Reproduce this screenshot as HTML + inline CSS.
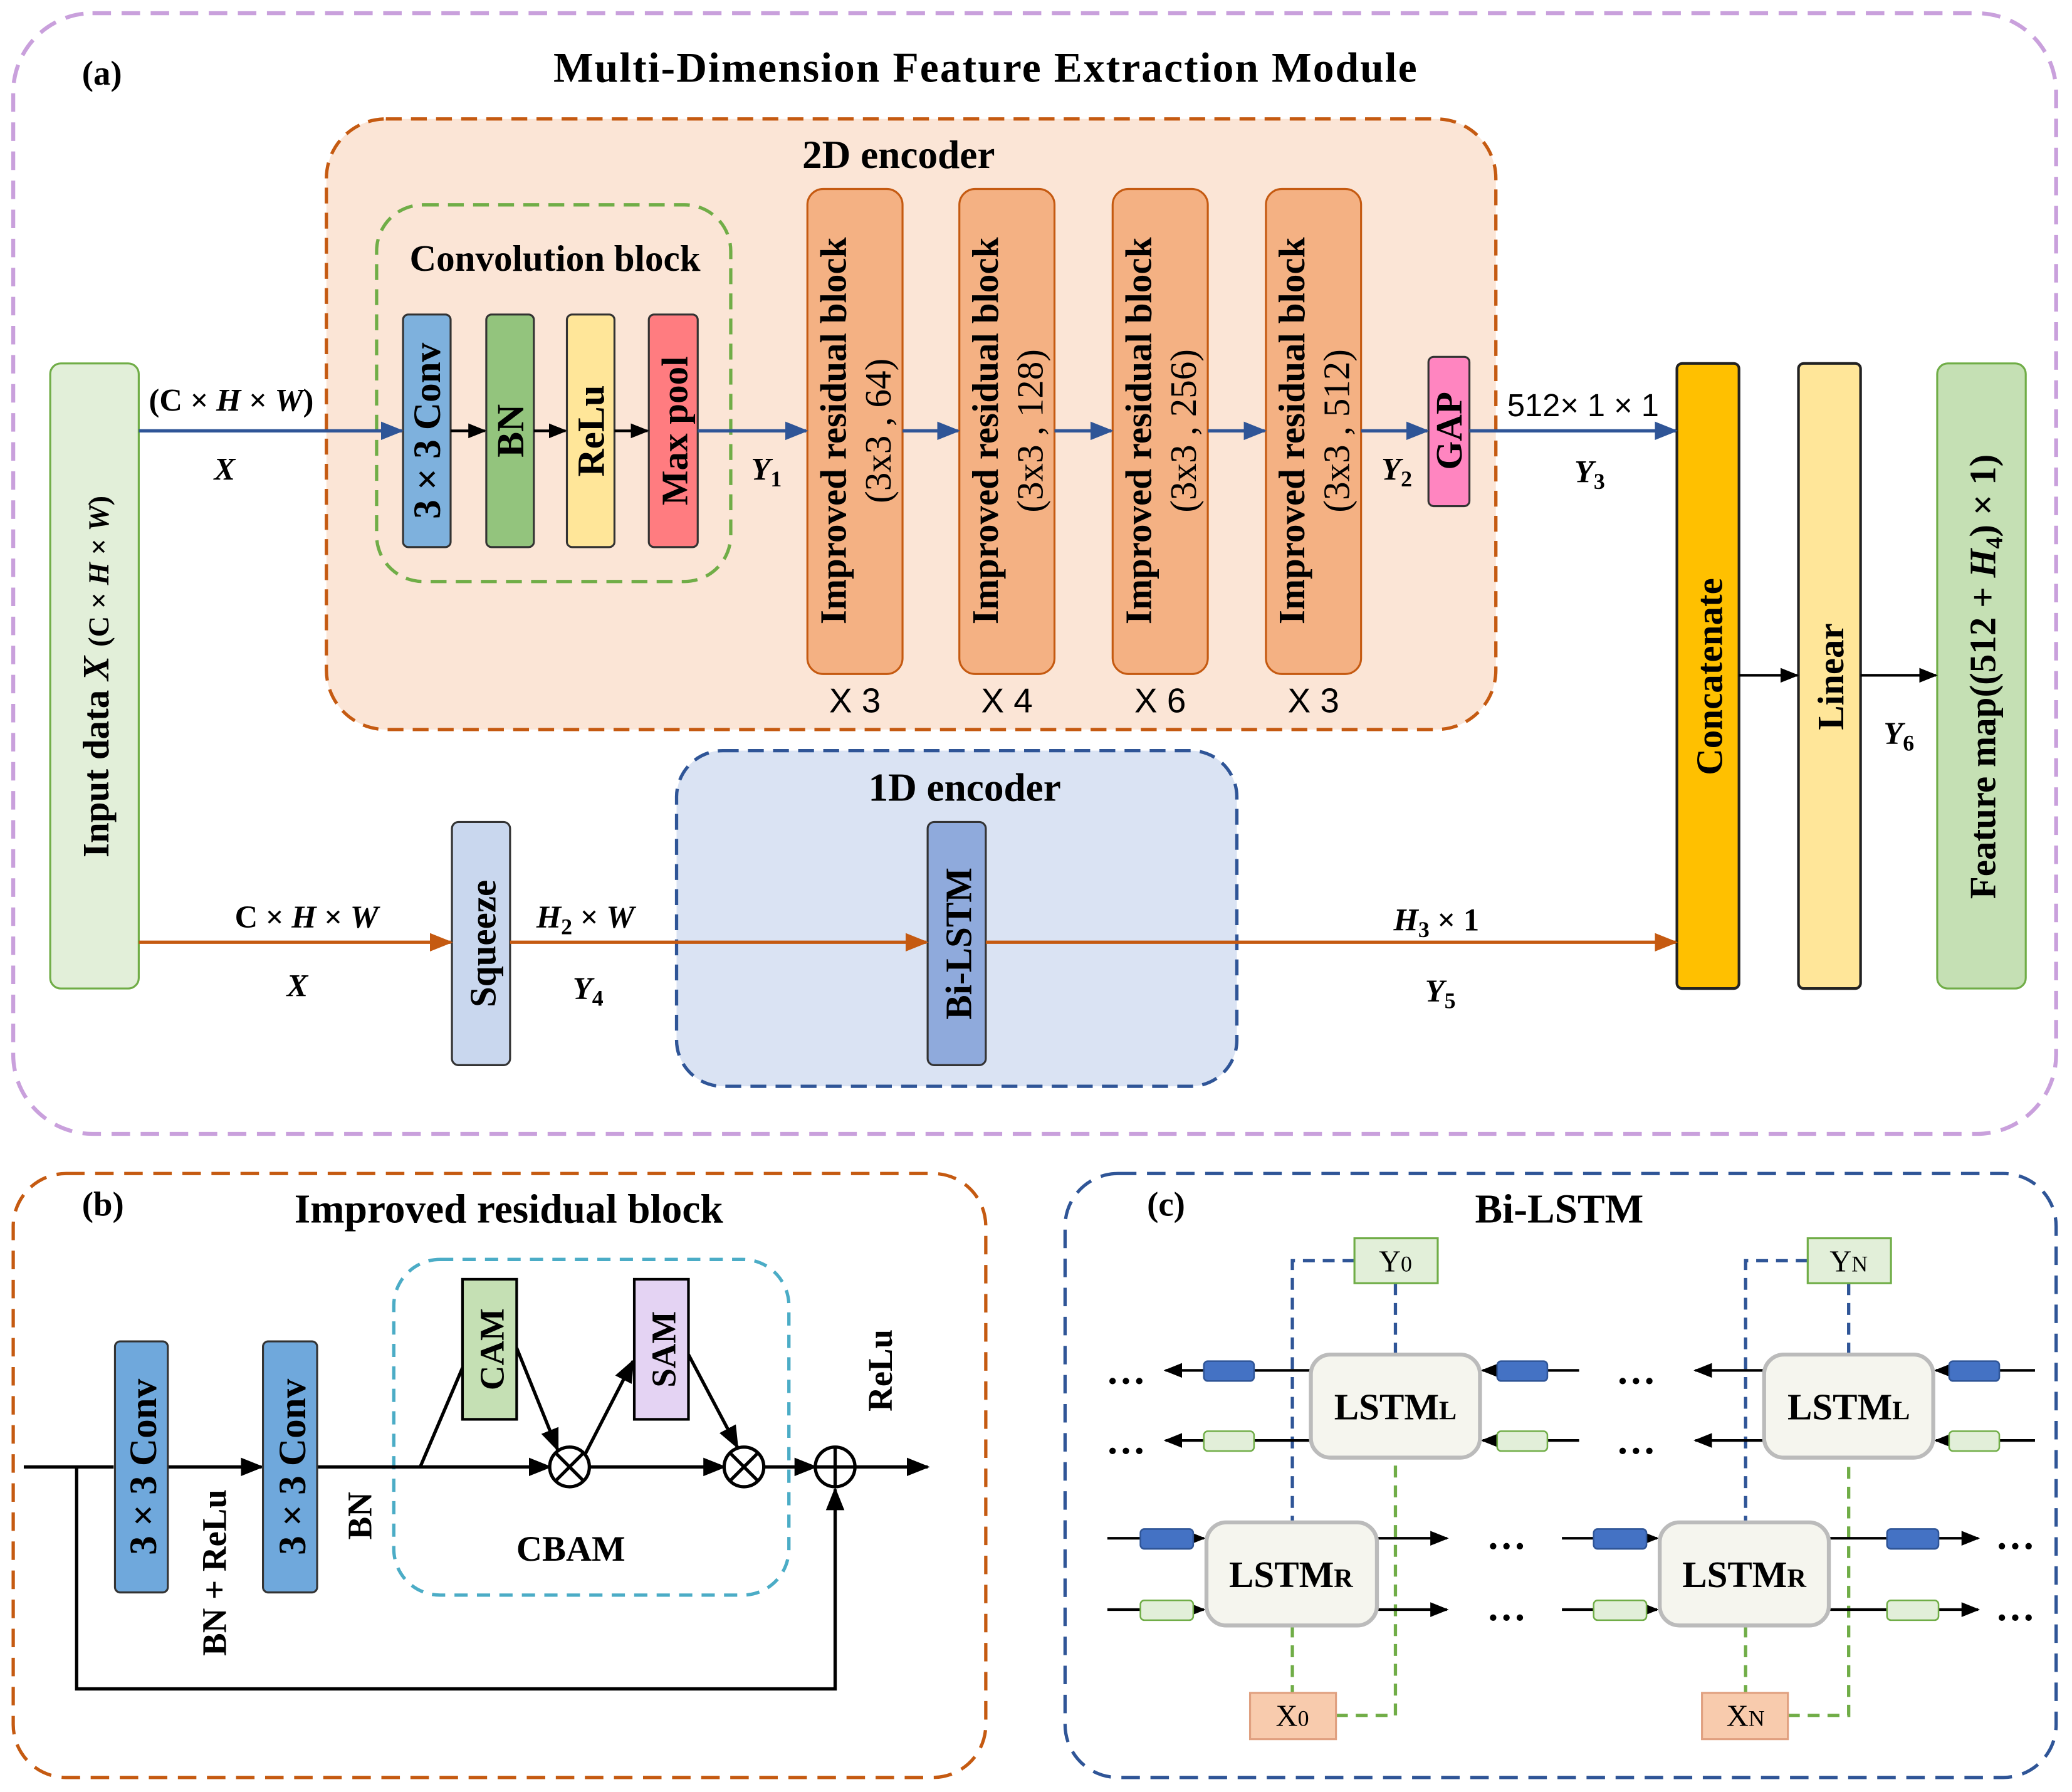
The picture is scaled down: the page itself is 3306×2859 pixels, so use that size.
<!DOCTYPE html>
<html><head><meta charset="utf-8"><style>
html,body{margin:0;padding:0;background:#fff;}
svg{display:block;}
text{font-family:"Liberation Serif",serif;font-weight:bold;fill:#000;}
text.s{font-family:"Liberation Sans",sans-serif;font-weight:normal;}
text.n{font-weight:normal;}
</style></head><body>
<svg width="3306" height="2859" viewBox="0 0 1568 1356" xmlns="http://www.w3.org/2000/svg">
<defs>
<marker id="ab" viewBox="0 0 10 10" refX="9" refY="5" markerWidth="7" markerHeight="7" orient="auto"><path d="M0,1 L10,5 L0,9 z" fill="#2f5597"/></marker>
<marker id="ao" viewBox="0 0 10 10" refX="9" refY="5" markerWidth="7" markerHeight="7" orient="auto"><path d="M0,1 L10,5 L0,9 z" fill="#c55a11"/></marker>
<marker id="ak" viewBox="0 0 10 10" refX="9" refY="5" markerWidth="7" markerHeight="7" orient="auto"><path d="M0,1 L10,5 L0,9 z" fill="#000"/></marker>
</defs>
<!-- (a) -->
<rect x="10" y="10" width="1546" height="848" rx="60" fill="none" stroke="#c9a0dc" stroke-width="3" stroke-dasharray="14,8"/>
<text x="62" y="64" font-size="26">(a)</text>
<text x="746" y="62" font-size="32" text-anchor="middle" letter-spacing="1">Multi-Dimension Feature Extraction Module</text>
<rect x="247" y="90" width="885" height="462" rx="45" fill="#fbe5d6" stroke="#c55a11" stroke-width="2.5" stroke-dasharray="12,7"/>
<text x="680" y="127" font-size="30" text-anchor="middle">2D encoder</text>
<rect x="285" y="155" width="268" height="285" rx="35" fill="none" stroke="#70ad47" stroke-width="2.5" stroke-dasharray="12,7"/>
<text x="420" y="205" font-size="28" text-anchor="middle">Convolution block</text>
<g stroke="#333" stroke-width="1.5">
<rect x="305" y="238" width="36" height="176" rx="4" fill="#7eb1dd"/>
<rect x="368" y="238" width="36" height="176" rx="4" fill="#93c47d"/>
<rect x="429" y="238" width="36" height="176" rx="4" fill="#ffe699"/>
<rect x="491" y="238" width="37" height="176" rx="4" fill="#ff7c80"/>
</g>
<text transform="translate(333,326) rotate(-90)" font-size="29" text-anchor="middle">3 × 3 Conv</text>
<text transform="translate(396,326) rotate(-90)" font-size="29" text-anchor="middle">BN</text>
<text transform="translate(457,326) rotate(-90)" font-size="29" text-anchor="middle">ReLu</text>
<text transform="translate(520,326) rotate(-90)" font-size="28" text-anchor="middle">Max pool</text>
<g stroke="#c55a11" stroke-width="1.5" fill="#f4b183">
<rect x="611" y="143" width="72" height="367" rx="12"/>
<rect x="726" y="143" width="72" height="367" rx="12"/>
<rect x="842" y="143" width="72" height="367" rx="12"/>
<rect x="958" y="143" width="72" height="367" rx="12"/>
</g>
<g font-size="28">
<text transform="translate(640,326) rotate(-90)" text-anchor="middle">Improved residual block</text>
<text transform="translate(674,326) rotate(-90)" text-anchor="middle" class="n">(3x3 , 64)</text>
<text transform="translate(755,326) rotate(-90)" text-anchor="middle">Improved residual block</text>
<text transform="translate(789,326) rotate(-90)" text-anchor="middle" class="n">(3x3 , 128)</text>
<text transform="translate(871,326) rotate(-90)" text-anchor="middle">Improved residual block</text>
<text transform="translate(905,326) rotate(-90)" text-anchor="middle" class="n">(3x3 , 256)</text>
<text transform="translate(987,326) rotate(-90)" text-anchor="middle">Improved residual block</text>
<text transform="translate(1021,326) rotate(-90)" text-anchor="middle" class="n">(3x3 , 512)</text>
</g>
<g font-size="26">
<text class="s" x="647" y="539" text-anchor="middle">X 3</text>
<text class="s" x="762" y="539" text-anchor="middle">X 4</text>
<text class="s" x="878" y="539" text-anchor="middle">X 6</text>
<text class="s" x="994" y="539" text-anchor="middle">X 3</text>
</g>
<rect x="1081" y="270" width="31" height="113" rx="4" fill="#ff85c0" stroke="#333" stroke-width="1.5"/>
<text transform="translate(1106,326) rotate(-90)" font-size="28" text-anchor="middle">GAP</text>
<rect x="38" y="275" width="67" height="473" rx="8" fill="#e2efd9" stroke="#70ad47" stroke-width="1.5"/>
<text transform="translate(82,512) rotate(-90)" font-size="28" text-anchor="middle">Input data <tspan font-style="italic">X</tspan> <tspan font-size="22">(C × <tspan font-style="italic">H</tspan> × <tspan font-style="italic">W</tspan>)</tspan></text>
<rect x="1269" y="275" width="47" height="473" rx="4" fill="#ffc000" stroke="#222" stroke-width="2"/>
<rect x="1361" y="275" width="47" height="473" rx="4" fill="#ffe699" stroke="#222" stroke-width="2"/>
<rect x="1466" y="275" width="67" height="473" rx="8" fill="#c5e0b4" stroke="#70ad47" stroke-width="1.5"/>
<text transform="translate(1303,512) rotate(-90)" font-size="28" text-anchor="middle">Concatenate</text>
<text transform="translate(1395,512) rotate(-90)" font-size="28" text-anchor="middle">Linear</text>
<text transform="translate(1510,512) rotate(-90)" font-size="28" text-anchor="middle">Feature map((512 + <tspan font-style="italic">H</tspan><tspan font-size="18" dy="5">4</tspan><tspan dy="-5">) × 1)</tspan></text>
<g stroke="#2f5597" stroke-width="2.5" marker-end="url(#ab)">
<line x1="105" y1="326" x2="304" y2="326"/>
<line x1="528" y1="326" x2="610" y2="326"/>
<line x1="683" y1="326" x2="725" y2="326"/>
<line x1="798" y1="326" x2="841" y2="326"/>
<line x1="914" y1="326" x2="957" y2="326"/>
<line x1="1030" y1="326" x2="1080" y2="326"/>
<line x1="1112" y1="326" x2="1268" y2="326"/>
</g>
<g stroke="#000" stroke-width="2" marker-end="url(#ak)">
<line x1="341" y1="326" x2="367" y2="326"/>
<line x1="404" y1="326" x2="428" y2="326"/>
<line x1="465" y1="326" x2="490" y2="326"/>
<line x1="1316" y1="511" x2="1360" y2="511"/>
<line x1="1408" y1="511" x2="1465" y2="511"/>
</g>
<g font-size="24">
<text x="175" y="311" text-anchor="middle">(C × <tspan font-style="italic">H</tspan> × <tspan font-style="italic">W</tspan>)</text>
<text x="170" y="363" text-anchor="middle" font-style="italic">X</text>
<text x="580" y="363" text-anchor="middle" font-style="italic">Y<tspan font-size="17" dy="5" font-style="normal">1</tspan></text>
<text x="1057" y="363" text-anchor="middle" font-style="italic">Y<tspan font-size="17" dy="5" font-style="normal">2</tspan></text>
<text class="s" x="1198" y="315" text-anchor="middle">512× 1 × 1</text>
<text x="1203" y="365" text-anchor="middle" font-style="italic">Y<tspan font-size="17" dy="5" font-style="normal">3</tspan></text>
<text x="1437" y="563" text-anchor="middle" font-style="italic">Y<tspan font-size="17" dy="5" font-style="normal">6</tspan></text>
</g>
<rect x="512" y="568" width="424" height="254" rx="35" fill="#dae3f3" stroke="#2f5597" stroke-width="2.5" stroke-dasharray="12,7"/>
<text x="730" y="606" font-size="30" text-anchor="middle">1D encoder</text>
<rect x="342" y="622" width="44" height="184" rx="5" fill="#c9d7ee" stroke="#333" stroke-width="1.5"/>
<rect x="702" y="622" width="44" height="184" rx="5" fill="#8faadc" stroke="#333" stroke-width="1.5"/>
<text transform="translate(375,714) rotate(-90)" font-size="28" text-anchor="middle">Squeeze</text>
<text transform="translate(735,714) rotate(-90)" font-size="28" text-anchor="middle">Bi-LSTM</text>
<g stroke="#c55a11" stroke-width="2.5" marker-end="url(#ao)">
<line x1="105" y1="713" x2="341" y2="713"/>
<line x1="386" y1="713" x2="701" y2="713"/>
<line x1="746" y1="713" x2="1268" y2="713"/>
</g>
<g font-size="24">
<text x="232" y="702" text-anchor="middle">C × <tspan font-style="italic">H</tspan> × <tspan font-style="italic">W</tspan></text>
<text x="225" y="754" text-anchor="middle" font-style="italic">X</text>
<text x="443" y="702" text-anchor="middle"><tspan font-style="italic">H</tspan><tspan font-size="17" dy="5">2</tspan><tspan dy="-5"> × </tspan><tspan font-style="italic">W</tspan></text>
<text x="445" y="756" text-anchor="middle" font-style="italic">Y<tspan font-size="17" dy="5" font-style="normal">4</tspan></text>
<text x="1087" y="704" text-anchor="middle"><tspan font-style="italic">H</tspan><tspan font-size="17" dy="5">3</tspan><tspan dy="-5"> × 1</tspan></text>
<text x="1090" y="758" text-anchor="middle" font-style="italic">Y<tspan font-size="17" dy="5" font-style="normal">5</tspan></text>
</g>
<!-- (b) -->
<rect x="10" y="888" width="736" height="457" rx="40" fill="none" stroke="#c55a11" stroke-width="2.5" stroke-dasharray="14,8"/>
<text x="62" y="920" font-size="26">(b)</text>
<text x="385" y="925" font-size="31" text-anchor="middle">Improved residual block</text>
<rect x="298" y="953" width="299" height="254" rx="35" fill="none" stroke="#4bacc6" stroke-width="2.5" stroke-dasharray="10,7"/>
<text x="432" y="1181" font-size="27" text-anchor="middle">CBAM</text>
<g stroke="#000" stroke-width="2.5" fill="none">
<line x1="18" y1="1110" x2="86" y2="1110"/>
<line x1="127" y1="1110" x2="198" y2="1110" marker-end="url(#ak)"/>
<line x1="240" y1="1110" x2="416" y2="1110" marker-end="url(#ak)"/>
<line x1="446" y1="1110" x2="548" y2="1110" marker-end="url(#ak)"/>
<line x1="578" y1="1110" x2="617" y2="1110" marker-end="url(#ak)"/>
<line x1="647" y1="1110" x2="702" y2="1110" marker-end="url(#ak)"/>
<polyline points="58,1110 58,1278 632,1278 632,1127" marker-end="url(#ak)"/>
<polyline points="318,1110 350,1035"/>
<line x1="391" y1="1020" x2="422" y2="1097" marker-end="url(#ak)"/>
<line x1="443" y1="1100" x2="479" y2="1030" marker-end="url(#ak)"/>
<line x1="521" y1="1025" x2="558" y2="1095" marker-end="url(#ak)"/>
</g>
<rect x="87" y="1015" width="40" height="190" rx="4" fill="#6fa8dc" stroke="#333" stroke-width="1.5"/>
<rect x="199" y="1015" width="41" height="190" rx="4" fill="#6fa8dc" stroke="#333" stroke-width="1.5"/>
<text transform="translate(118,1110) rotate(-90)" font-size="29" text-anchor="middle">3 × 3 Conv</text>
<text transform="translate(231,1110) rotate(-90)" font-size="29" text-anchor="middle">3 × 3 Conv</text>
<text transform="translate(171,1190) rotate(-90)" font-size="26" text-anchor="middle">BN + ReLu</text>
<text transform="translate(281,1147) rotate(-90)" font-size="26" text-anchor="middle">BN</text>
<text transform="translate(675,1037) rotate(-90)" font-size="26" text-anchor="middle">ReLu</text>
<rect x="350" y="968" width="41" height="106" fill="#c5e0b4" stroke="#000" stroke-width="2"/>
<rect x="480" y="968" width="41" height="106" fill="#e4d3f3" stroke="#000" stroke-width="2"/>
<text transform="translate(381,1021) rotate(-90)" font-size="26" text-anchor="middle">CAM</text>
<text transform="translate(511,1021) rotate(-90)" font-size="26" text-anchor="middle">SAM</text>
<g stroke="#000" stroke-width="2.5" fill="#fff">
<circle cx="431" cy="1110" r="15"/><circle cx="563" cy="1110" r="15"/><circle cx="632" cy="1110" r="15"/>
<path d="M420,1099 L442,1121 M442,1099 L420,1121 M552,1099 L574,1121 M574,1099 L552,1121 M617,1110 L647,1110 M632,1095 L632,1125" fill="none"/>
</g>
<!-- (c) -->
<rect x="806" y="888" width="750" height="457" rx="40" fill="none" stroke="#2f5597" stroke-width="2.5" stroke-dasharray="14,8"/>
<text x="868" y="920" font-size="26">(c)</text>
<text x="1180" y="925" font-size="31" text-anchor="middle">Bi-LSTM</text>
<!-- dashed connectors -->
<g stroke="#2f5597" stroke-width="2.5" stroke-dasharray="9,6" fill="none">
<line x1="1056" y1="971" x2="1056" y2="1025"/>
<polyline points="1025,954 978,954 978,1152"/>
<line x1="1399" y1="971" x2="1399" y2="1025"/>
<polyline points="1368,954 1321,954 1321,1152"/>
</g>
<g stroke="#70ad47" stroke-width="2.5" stroke-dasharray="9,6" fill="none">
<polyline points="1011,1298 1056,1298 1056,1103"/>
<line x1="978" y1="1230" x2="978" y2="1281"/>
<polyline points="1353,1298 1399,1298 1399,1103"/>
<line x1="1321" y1="1230" x2="1321" y2="1281"/>
</g>
<g stroke="#000" stroke-width="2" marker-end="url(#ak)">
<line x1="992" y1="1037" x2="882" y2="1037"/>
<line x1="992" y1="1090" x2="882" y2="1090"/>
<line x1="1195" y1="1037" x2="1122" y2="1037"/>
<line x1="1195" y1="1090" x2="1122" y2="1090"/>
<line x1="1335" y1="1037" x2="1283" y2="1037"/>
<line x1="1335" y1="1090" x2="1283" y2="1090"/>
<line x1="1540" y1="1037" x2="1465" y2="1037"/>
<line x1="1540" y1="1090" x2="1465" y2="1090"/>
<line x1="838" y1="1164" x2="911" y2="1164"/>
<line x1="838" y1="1218" x2="911" y2="1218"/>
<line x1="1042" y1="1164" x2="1095" y2="1164"/>
<line x1="1042" y1="1218" x2="1095" y2="1218"/>
<line x1="1182" y1="1164" x2="1254" y2="1164"/>
<line x1="1182" y1="1218" x2="1254" y2="1218"/>
<line x1="1384" y1="1164" x2="1497" y2="1164"/>
<line x1="1384" y1="1218" x2="1497" y2="1218"/>
</g>
<g stroke-width="1.2">
<rect x="911" y="1030" width="38" height="15" rx="3" fill="#4472c4" stroke="#2f5597"/>
<rect x="911" y="1083" width="38" height="15" rx="3" fill="#e2efd9" stroke="#70ad47"/>
<rect x="1133" y="1030" width="38" height="15" rx="3" fill="#4472c4" stroke="#2f5597"/>
<rect x="1133" y="1083" width="38" height="15" rx="3" fill="#e2efd9" stroke="#70ad47"/>
<rect x="1475" y="1030" width="38" height="15" rx="3" fill="#4472c4" stroke="#2f5597"/>
<rect x="1475" y="1083" width="38" height="15" rx="3" fill="#e2efd9" stroke="#70ad47"/>
<rect x="863" y="1157" width="40" height="15" rx="3" fill="#4472c4" stroke="#2f5597"/>
<rect x="863" y="1211" width="40" height="15" rx="3" fill="#e2efd9" stroke="#70ad47"/>
<rect x="1206" y="1157" width="40" height="15" rx="3" fill="#4472c4" stroke="#2f5597"/>
<rect x="1206" y="1211" width="40" height="15" rx="3" fill="#e2efd9" stroke="#70ad47"/>
<rect x="1428" y="1157" width="39" height="15" rx="3" fill="#4472c4" stroke="#2f5597"/>
<rect x="1428" y="1211" width="39" height="15" rx="3" fill="#e2efd9" stroke="#70ad47"/>
</g>
<g fill="#f5f5ee" stroke="#bbb" stroke-width="3">
<rect x="992" y="1025" width="128" height="78" rx="15"/>
<rect x="913" y="1152" width="129" height="78" rx="15"/>
<rect x="1335" y="1025" width="128" height="78" rx="15"/>
<rect x="1256" y="1152" width="128" height="78" rx="15"/>
</g>
<g stroke-width="1.5">
<rect x="1025" y="937" width="63" height="34" fill="#e2efd9" stroke="#70ad47"/>
<rect x="1368" y="937" width="63" height="34" fill="#e2efd9" stroke="#70ad47"/>
<rect x="946" y="1281" width="65" height="35" fill="#f8cbad" stroke="#e0a080"/>
<rect x="1288" y="1281" width="65" height="35" fill="#f8cbad" stroke="#e0a080"/>
</g>
<g font-size="28">
<text x="1056" y="1074" text-anchor="middle">LSTM<tspan font-size="20">L</tspan></text>
<text x="1399" y="1074" text-anchor="middle">LSTM<tspan font-size="20">L</tspan></text>
<text x="977" y="1201" text-anchor="middle">LSTM<tspan font-size="20">R</tspan></text>
<text x="1320" y="1201" text-anchor="middle">LSTM<tspan font-size="20">R</tspan></text>
<text class="n" x="1056" y="962" font-size="23" text-anchor="middle">Y<tspan font-size="17">0</tspan></text>
<text class="n" x="1399" y="962" font-size="23" text-anchor="middle">Y<tspan font-size="17">N</tspan></text>
<text class="n" x="978" y="1306" font-size="23" text-anchor="middle">X<tspan font-size="17">0</tspan></text>
<text class="n" x="1321" y="1306" font-size="23" text-anchor="middle">X<tspan font-size="17">N</tspan></text>
</g>
<g font-size="30">
<text x="852" y="1047" text-anchor="middle">…</text><text x="852" y="1100" text-anchor="middle">…</text>
<text x="1238" y="1047" text-anchor="middle">…</text><text x="1238" y="1100" text-anchor="middle">…</text>
<text x="1140" y="1172" text-anchor="middle">…</text><text x="1140" y="1226" text-anchor="middle">…</text>
<text x="1525" y="1172" text-anchor="middle">…</text><text x="1525" y="1226" text-anchor="middle">…</text>
</g>
</svg>
</body></html>
